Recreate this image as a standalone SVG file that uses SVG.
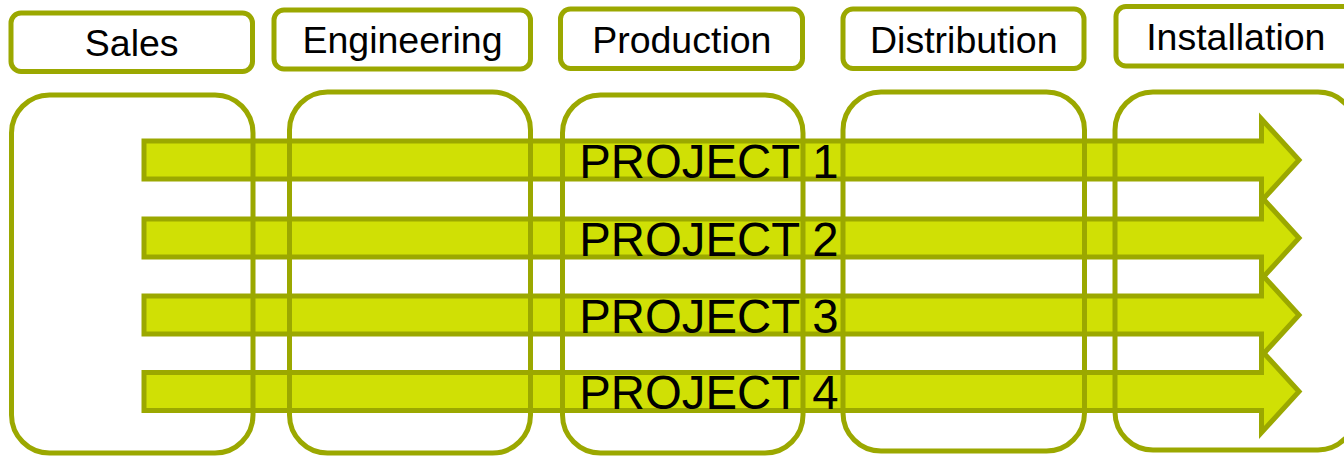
<svg xmlns="http://www.w3.org/2000/svg" width="1344" height="456" viewBox="0 0 1344 456">
  <style>
    .hdr { fill: #ffffff; stroke: #9ba800; stroke-width: 5; }
    .col { fill: none; stroke: #9ba800; stroke-width: 5; }
    .arrow { fill: #d0e005; stroke: #9ba800; stroke-width: 5; stroke-linejoin: miter; }
    .hdr-text { font-family: "Liberation Sans", Arial, sans-serif; font-size: 37.5px; fill: #000000; text-anchor: middle; }
    .proj-text { font-family: "Liberation Sans", Arial, sans-serif; font-size: 47.3px; fill: #000000; }
  </style>
  <rect width="1344" height="456" fill="#ffffff"/>

  <!-- project arrows, drawn beneath the department columns -->
  <g id="connectors">
    <path id="arrow-project-1" class="arrow" d="M144,141 H1261.5 V119 L1299,160 L1261.5,201 V179 H144 Z"/>
    <path id="arrow-project-2" class="arrow" d="M144,219 H1261.5 V197 L1299,238 L1261.5,279 V257 H144 Z"/>
    <path id="arrow-project-3" class="arrow" d="M144,296 H1261.5 V274 L1299,315 L1261.5,356 V334 H144 Z"/>
    <path id="arrow-project-4" class="arrow" d="M144,372.5 H1261.5 V350.5 L1299,391.5 L1261.5,432.5 V410.5 H144 Z"/>
  </g>

  <!-- department columns -->
  <g id="col-sales"><rect class="col" x="11.5" y="95" width="241.5" height="358" rx="38"/></g>
  <g id="col-engineering"><rect class="col" x="289.5" y="92" width="241" height="361" rx="38"/></g>
  <g id="col-production"><rect class="col" x="562.5" y="95" width="240.5" height="358" rx="38"/></g>
  <g id="col-distribution"><rect class="col" x="843" y="92" width="241.5" height="359" rx="38"/></g>
  <g id="col-installation"><rect class="col" x="1115" y="92" width="241" height="358" rx="38"/></g>

  <!-- department headers -->
  <g id="hdr-sales">
    <rect class="hdr" x="11" y="13" width="241.5" height="58.5" rx="10"/>
    <text class="hdr-text" x="131.7" y="56">Sales</text>
  </g>
  <g id="hdr-engineering">
    <rect class="hdr" x="274" y="10" width="256.5" height="59" rx="10"/>
    <text class="hdr-text" x="402.5" y="53.3">Engineering</text>
  </g>
  <g id="hdr-production">
    <rect class="hdr" x="560.5" y="9" width="242" height="59.5" rx="10"/>
    <text class="hdr-text" x="681.8" y="52.7">Production</text>
  </g>
  <g id="hdr-distribution">
    <rect class="hdr" x="843" y="9" width="241" height="59.5" rx="10"/>
    <text class="hdr-text" x="963.8" y="53.3">Distribution</text>
  </g>
  <g id="hdr-installation">
    <rect class="hdr" x="1116" y="6.5" width="240" height="59.5" rx="10"/>
    <text class="hdr-text" x="1235.8" y="50">Installation</text>
  </g>

  <!-- project labels -->
  <g id="labels">
    <text class="proj-text" x="579.3" y="177.5">PROJECT 1</text>
    <text class="proj-text" x="579.3" y="255.5">PROJECT 2</text>
    <text class="proj-text" x="579.3" y="332.5">PROJECT 3</text>
    <text class="proj-text" x="579.3" y="409">PROJECT 4</text>
  </g>
</svg>
